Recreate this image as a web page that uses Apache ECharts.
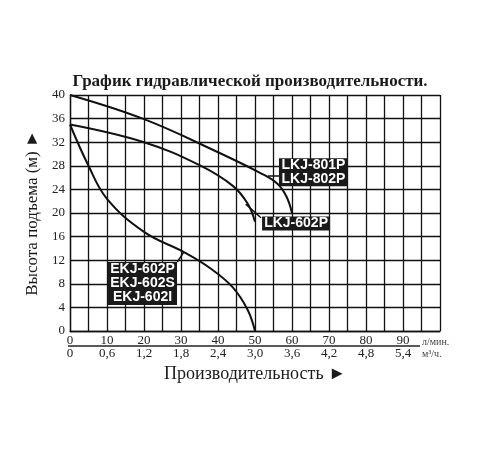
<!DOCTYPE html>
<html>
<head>
<meta charset="utf-8">
<script src="https://cdn.jsdelivr.net/npm/echarts@6/dist/echarts.min.js"></script>
<style>
  html, body { margin: 0; padding: 0; background: #fff; }
  #chart { width: 500px; height: 450px; }
</style>
</head>
<body>
<div id="chart"></div>
<script>
// расход, л/мин -> напор, м
const lkj80xCurve = [[0, 40], [20, 35.9], [40, 30.3], [52, 26.6], [56, 25], [58.5, 22.8], [60, 20]];
const lkj602Curve = [[0, 35], [20, 32], [35, 28.1], [44, 24.6], [48, 21.6], [50, 18.5]];
const ekjCurve = [[0, 35], [5, 28], [10, 22.4], [20, 16.8], [31, 13.3], [38, 10.6], [44, 7.4], [48, 3.6], [50, 0]];

const flowLabels = ['0', '10', '20', '30', '40', '50', '60', '70', '80', '90'];
const m3Labels = ['0', '0,6', '1,2', '1,8', '2,4', '3,0', '3,6', '4,2', '4,8', '5,4'];
const headLabels = ['0', '4', '8', '12', '16', '20', '24', '28', '32', '36', '40'];

const serif = '"Liberation Serif", "DejaVu Serif", serif';
const sans = '"Liberation Sans", Arial, sans-serif';

function tickText(list, v) {
    if (v % 10 !== 0 || v >= 100) return '';
    return list[v / 10];
}

function curveSeries(data, mark, leader) {
    return {
        type: 'line',
        data: data,
        smooth: 0.4,
        showSymbol: false,
        silent: true,
        lineStyle: { color: '#111', width: 2 },
        markPoint: {
            silent: true,
            symbol: 'rect',
            symbolSize: mark.size,
            itemStyle: { color: '#1a1a1a' },
            label: {
                show: true,
                position: 'inside',
                color: '#fff',
                fontFamily: sans,
                fontWeight: 'bold',
                fontSize: 14,
                lineHeight: 14,
                formatter: mark.text
            },
            data: [{ coord: mark.at }]
        },
        markLine: {
            silent: true,
            symbol: 'none',
            label: { show: false },
            lineStyle: { color: '#111', width: 1.5, type: 'solid' },
            data: [[{ coord: leader[0] }, { coord: leader[1] }]]
        }
    };
}

const chart = echarts.init(document.getElementById('chart'));
chart.setOption({
    backgroundColor: '#fff',
    animation: false,
    title: {
        text: 'График гидравлической производительности.',
        left: 'center',
        top: 68,
        textStyle: { fontFamily: serif, fontWeight: 'bold', fontSize: 17, color: '#1a1a1a' }
    },
    grid: { left: 70, right: 60, top: 95, bottom: 119 },
    xAxis: [
        {
            type: 'value',
            min: 0, max: 100, interval: 5,
            axisLine: { show: true, lineStyle: { color: '#111', width: 1.3 } },
            axisTick: { show: false },
            splitLine: { show: true, lineStyle: { color: '#111', width: 1.3 } },
            axisLabel: {
                margin: 3,
                fontFamily: serif, fontSize: 13, color: '#222',
                formatter: v => tickText(flowLabels, v)
            }
        },
        {
            type: 'value',
            position: 'bottom',
            offset: 14,
            min: 0, max: 100, interval: 5,
            axisLine: { show: false },
            axisTick: { show: false },
            splitLine: { show: false },
            axisLabel: {
                margin: 2,
                fontFamily: serif, fontSize: 13, color: '#222',
                formatter: v => tickText(m3Labels, v)
            },
            name: 'Производительность ►',
            nameLocation: 'middle',
            nameGap: 18,
            nameTextStyle: { fontFamily: serif, fontSize: 18, color: '#1a1a1a' }
        }
    ],
    yAxis: {
        type: 'value',
        min: 0, max: 40, interval: 4,
        axisLine: { show: true, lineStyle: { color: '#111', width: 1.3 } },
        axisTick: { show: false },
        splitLine: { show: true, lineStyle: { color: '#111', width: 1.3 } },
        axisLabel: {
            margin: 5,
            fontFamily: serif, fontSize: 13, color: '#222',
            formatter: v => headLabels[v / 4]
        },
        name: 'Высота подъема (м) ►',
        nameLocation: 'middle',
        nameGap: 29,
        nameTextStyle: { fontFamily: serif, fontSize: 17, color: '#1a1a1a' }
    },
    graphic: [
        { type: 'line', shape: { x1: 68, y1: 346, x2: 420, y2: 346 }, style: { stroke: '#222', lineWidth: 1.3 } },
        { type: 'text', left: 422, top: 337, style: { text: 'л/мин.', font: '10px ' + serif, fill: '#444' } },
        { type: 'text', left: 422, top: 349, style: { text: 'м³/ч.', font: '10px ' + serif, fill: '#444' } }
    ],
    series: [
        curveSeries(lkj80xCurve, { text: 'LKJ-801P\nLKJ-802P', at: [65.8, 26.9], size: [69, 28] }, [[53.5, 26.3], [56.6, 26.3]]),
        curveSeries(lkj602Curve, { text: 'LKJ-602P', at: [61.1, 18.2], size: [68, 14] }, [[47.5, 21.5], [51.6, 19.2]]),
        curveSeries(ekjCurve, { text: 'EKJ-602P\nEKJ-602S\nEKJ-602I', at: [19.6, 8.05], size: [69, 43] }, [[30.8, 13.4], [29, 11.7]])
    ]
});
</script>
</body>
</html>
